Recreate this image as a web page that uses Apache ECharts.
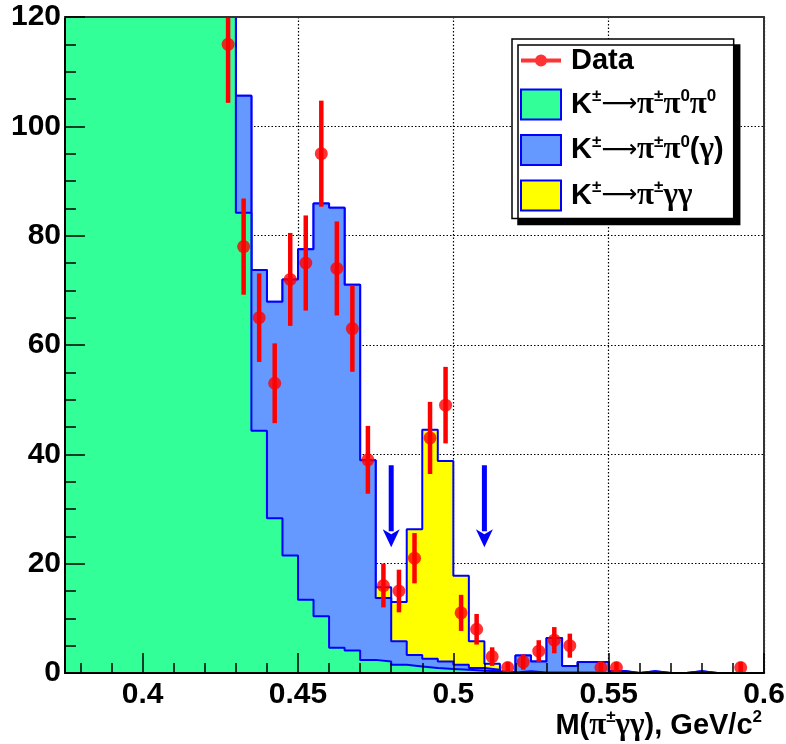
<!DOCTYPE html>
<html><head><meta charset="utf-8">
<script src="https://cdn.jsdelivr.net/npm/echarts@6/dist/echarts.min.js"></script>
<style>html,body{margin:0;padding:0;background:#fff}#chart{width:786px;height:744px}</style>
</head><body><div id="chart"></div>
<script>
// ---- data ----
const binLow = [0.375,0.38,0.385,0.39,0.395,0.4,0.405,0.41,0.415,0.42,0.425,0.43,0.435,0.44,0.445,0.45,0.455,0.46,0.465,0.47,0.475,0.48,0.485,0.49,0.495,0.5,0.505,0.51,0.515,0.52,0.525,0.53,0.535,0.54,0.545,0.55,0.555,0.56,0.565,0.57,0.575,0.58,0.585,0.59,0.595];
const binHigh = 0.6;
const greenCounts = [420,400,380,355,330,300,270,240,210,180,150,84.2,44.3,28.3,21.5,13.4,10.4,4.6,4.1,2.4,2.1,1.5,1.2,0.9,0.75,0.6,0.4,0.3,0.1,0.3,0.1,0.1,0.1,0.1,0,0,0,0,0,0,0,0,0,0,0];
const blueCounts = [0,0,0,0,0,0,0,0,0,0,0,21.4,29.4,39.6,50.5,64.1,75.5,80.5,66.9,36.5,11.6,4.3,2.1,1.7,1.35,0.9,0.5,0.3,0.1,2.9,2.0,6.3,1.2,1.9,2.0,0.35,0,0.3,0,0,0.3,0,0,0,0];
const yellowCounts = [0,0,0,0,0,0,0,0,0,0,0,0,0,0,0,0,0,0,0,0,2.0,7.2,23.0,41.9,36.7,16.3,4.9,1.1,0,0,0,0,0,0,0,0,0,0,0,0,0,0,0,0,0];
const dataX = [0.4275,0.4325,0.4375,0.4425,0.4475,0.4525,0.4575,0.4625,0.4675,0.4725,0.4775,0.4825,0.4875,0.4925,0.4975,0.5025,0.5075,0.5125,0.5175,0.5225,0.5275,0.5325,0.5375,0.5475,0.5525,0.5925];
const dataY = [115,78,65,53,72,75,95,74,63,39,16,15,21,43,49,11,8,3,1,2,4,6,5,1,1,1];
const dataErr = [10.7,8.8,8.1,7.3,8.5,8.7,9.7,8.6,7.9,6.2,4.0,3.9,4.6,6.6,7.0,3.3,2.8,1.7,1.0,1.4,2.0,2.4,2.2,1.0,1.0,1.0];
const arrowX = [0.48, 0.51];
const arrowFrom = [38, 38];
const arrowTo = [23, 23];
const xMajorTicks = [0.4,0.45,0.5,0.55,0.6];
const xMinorTicks = [0.38,0.39,0.41,0.42,0.43,0.44,0.46,0.47,0.48,0.49,0.51,0.52,0.53,0.54,0.56,0.57,0.58,0.59];
const seriesNames = ['Data','K^{±}→π^{±}π^{0}π^{0}','K^{±}→π^{±}π^{0}(γ)','K^{±}→π^{±}γγ'];
const xTitle = 'M(π^{±}γγ), GeV/c^{2}';

// ---- helpers ----
function plainRuns(t){
  let out='', cur='', cls=null;
  const flush=()=>{ if(cur){ out+='{'+cls+'|'+(cls==='ar'?'\u27F6':cur)+'}'; cur=''; } };
  for(const ch of t){
    const c = /[\u0370-\u03ff]/.test(ch) ? 'gr' : (ch==='→' ? 'ar' : 'b');
    if(c!==cls) flush();
    cls=c; cur+=ch;
  }
  flush();
  return out;
}
function toRich(s){
  let out='', last=0, m; const re=/\^\{([^}]*)\}/g;
  while((m=re.exec(s))){ if(m.index>last) out+=plainRuns(s.slice(last,m.index)); out+='{s|'+m[1]+'}'; last=re.lastIndex; }
  if(last<s.length) out+=plainRuns(s.slice(last));
  return out;
}
function stepData(vals){ const d=binLow.map((x,i)=>[x,vals[i]]); d.push([binHigh, vals[vals.length-1]]); return d; }
const totGreen = greenCounts.slice();
const totBlue = greenCounts.map((v,i)=>v+blueCounts[i]);
const totYellow = totBlue.map((v,i)=>v+yellowCounts[i]);

const FONT = 'Liberation Sans';
const OUTLINE = '#0000ff';
const GREEN = '#33ff99', BLUE = '#6699ff', YELLOW = '#ffff00', RED = '#ff0000';
const richStyles = (big, small) => ({
  b:{fontFamily:FONT, fontWeight:'bold', fontSize:big, lineHeight:big+4, color:'#000'},
  gr:{fontFamily:'Liberation Serif', fontWeight:'bold', fontSize:big+2, lineHeight:big+4, color:'#000'},
  ar:{fontFamily:'DejaVu Sans', fontWeight:'normal', fontSize:big-4, lineHeight:big+4, color:'#000'},
  s:{fontFamily:FONT, fontWeight:'bold', fontSize:small, lineHeight:small+1, verticalAlign:'top', color:'#000'},
  sp:{width:5, fontSize:4}
});
function histSeries(name, totals, fill, z){
  return {type:'line', name:name, step:'end', data:stepData(totals), symbol:'none', showSymbol:false,
    lineStyle:{color:OUTLINE, width:2}, areaStyle:{color:fill, opacity:1}, itemStyle:{color:fill},
    z:z, silent:true, clip:true, xAxisIndex:0, yAxisIndex:0};
}
const dotted = {color:'#000', width:1.2, type:[1.5,2]};
const xBase = {type:'value', min:0.375, max:0.6, gridIndex:0};
const yBase = {type:'value', min:0, max:120, interval:20, gridIndex:0};
const tickLine = {color:'#000', width:1.5};

const chart = echarts.init(document.getElementById('chart'), null, {renderer:'canvas'});
chart.setOption({
  animation:false,
  backgroundColor:'#fff',
  grid:{left:65, top:17, width:699, height:656, containLabel:false, outerBoundsMode:'none', show:false},
  legend:{
    orient:'vertical', left:512, top:39, padding:[7,10,7,8], itemGap:13, itemWidth:40, itemHeight:30,
    backgroundColor:'#fff', borderColor:'#000', borderWidth:1.5,
    shadowColor:'#000', shadowBlur:0, shadowOffsetX:6, shadowOffsetY:6,
    selectedMode:false, symbolKeepAspect:true,
    formatter:n=>'{sp| }'+toRich(n),
    textStyle:{color:'#000', rich:richStyles(29,17)},
    data:[
      {name:seriesNames[0], icon:'path://M0,5H40V9H0Z M14,7A6,6 0 1,1 26,7A6,6 0 1,1 14,7Z', itemStyle:{color:RED}},
      {name:seriesNames[1], icon:'rect', itemStyle:{color:GREEN, borderColor:OUTLINE, borderWidth:2}},
      {name:seriesNames[2], icon:'rect', itemStyle:{color:BLUE, borderColor:OUTLINE, borderWidth:2}},
      {name:seriesNames[3], icon:'rect', itemStyle:{color:YELLOW, borderColor:OUTLINE, borderWidth:2}}
    ]
  },
  xAxis:[
    Object.assign({}, xBase, {position:'bottom', z:0, axisLine:{show:false, onZero:false}, axisTick:{show:false, customValues:xMajorTicks}, axisLabel:{show:false}, splitLine:{show:true, lineStyle:dotted}}),
    Object.assign({}, xBase, {position:'bottom', z:10,
      axisLine:{show:true, onZero:false, lineStyle:{color:'#000', width:2}},
      axisTick:{show:true, inside:true, length:20, customValues:xMajorTicks, lineStyle:tickLine},
      axisLabel:{show:true, customValues:xMajorTicks, margin:7, fontSize:30, fontWeight:'bold', fontFamily:FONT, color:'#000', formatter:v=>String(v)},
      splitLine:{show:false},
      name:toRich(xTitle), nameLocation:'end', nameGap:-2, nameMoveOverlap:false,
      nameTextStyle:{align:'right', verticalAlign:'top', padding:[36,0,0,0], rich:richStyles(29,17)}}),
    Object.assign({}, xBase, {position:'bottom', z:10, axisLine:{show:false, onZero:false}, axisTick:{show:true, inside:true, length:10, customValues:xMinorTicks, lineStyle:tickLine}, axisLabel:{show:false}, splitLine:{show:false}}),
    Object.assign({}, xBase, {position:'top', z:10, axisLine:{show:true, onZero:false, lineStyle:{color:'#333', width:2}}, axisTick:{show:false}, axisLabel:{show:false}, splitLine:{show:false}})
  ],
  yAxis:[
    Object.assign({}, yBase, {position:'left', z:0, axisLine:{show:false, onZero:false}, axisTick:{show:false}, axisLabel:{show:false}, splitLine:{show:true, lineStyle:dotted}}),
    Object.assign({}, yBase, {position:'left', z:10,
      axisLine:{show:true, onZero:false, lineStyle:{color:'#000', width:2}},
      axisTick:{show:true, inside:true, length:20, lineStyle:tickLine},
      minorTick:{show:true, splitNumber:4, length:11, lineStyle:tickLine},
      axisLabel:{margin:4, fontSize:30, fontWeight:'bold', fontFamily:FONT, color:'#000'},
      splitLine:{show:false}}),
    Object.assign({}, yBase, {position:'right', z:10, axisLine:{show:true, onZero:false, lineStyle:{color:'#333', width:2}}, axisTick:{show:false}, axisLabel:{show:false}, splitLine:{show:false}})
  ],
  series:[
    histSeries(seriesNames[3], totYellow, YELLOW, 2),
    histSeries(seriesNames[2], totBlue, BLUE, 3),
    histSeries(seriesNames[1], totGreen, GREEN, 4),
    {type:'custom', name:'arrows', silent:true, z:5, xAxisIndex:0, yAxisIndex:0,
      data:arrowX.map((x,i)=>[x, arrowFrom[i], arrowTo[i]]),
      renderItem:function(params, api){
        const top=api.coord([api.value(0), api.value(1)]);
        const tip=api.coord([api.value(0), api.value(2)]);
        const hh=18, hw=17;
        return {type:'group', children:[
          {type:'line', shape:{x1:top[0], y1:top[1], x2:tip[0], y2:tip[1]-hh+2}, style:{stroke:OUTLINE, lineWidth:5}},
          {type:'polygon', shape:{points:[[tip[0]-hw/2, tip[1]-hh],[tip[0], tip[1]-hh+5],[tip[0]+hw/2, tip[1]-hh],[tip[0], tip[1]]]}, style:{fill:OUTLINE}}
        ]};
      }},
    {type:'scatter', name:seriesNames[0], data:dataX.map((x,i)=>[x, dataY[i]]), symbol:'circle', symbolSize:13,
      itemStyle:{color:RED}, z:7, silent:true, xAxisIndex:0, yAxisIndex:0},
    {type:'custom', name:seriesNames[0], silent:true, z:6, clip:true, xAxisIndex:0, yAxisIndex:0,
      itemStyle:{color:RED},
      data:dataX.map((x,i)=>[x, dataY[i]-dataErr[i], dataY[i]+dataErr[i]]),
      encode:{x:0, y:[1,2]},
      renderItem:function(params, api){
        const a=api.coord([api.value(0), api.value(1)]);
        const b=api.coord([api.value(0), api.value(2)]);
        return {type:'line', shape:{x1:a[0], y1:a[1], x2:b[0], y2:b[1]}, style:{stroke:RED, lineWidth:4.5}};
      }}
  ]
});
</script></body></html>
